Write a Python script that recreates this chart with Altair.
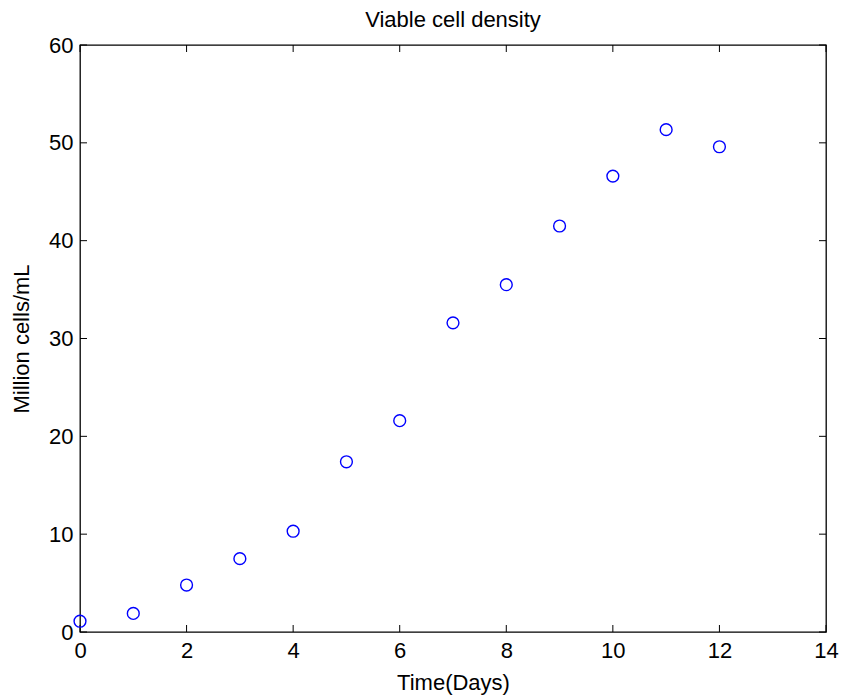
import altair as alt
import pandas as pd

days = [0, 1, 2, 3, 4, 5, 6, 7, 8, 9, 10, 11, 12]
density = [1.1, 1.9, 4.8, 7.5, 10.3, 17.4, 21.6, 31.6, 35.5, 41.5, 46.6, 51.35, 49.6]
x_ticks = [0, 2, 4, 6, 8, 10, 12, 14]
y_ticks = [0, 10, 20, 30, 40, 50, 60]

W, H = 746, 587
FONT = "Liberation Sans"
FS = 22

df = pd.DataFrame({"day": days, "density": density})
xt = pd.DataFrame({"t": x_ticks})
yt = pd.DataFrame({"t": y_ticks})

xscale = alt.Scale(domain=[0, 14], nice=False, zero=False)
yscale = alt.Scale(domain=[0, 60], nice=False)

points = alt.Chart(df).mark_point(
    shape="circle", filled=False, color="#0000ff", size=140, strokeWidth=1.4, opacity=1
).encode(
    x=alt.X("day:Q", scale=xscale, title="Time(Days)",
            axis=alt.Axis(values=x_ticks, ticks=False, grid=False, labelPadding=8,
                          labelFlush=False, domain=False, titlePadding=11)),
    y=alt.Y("density:Q", scale=yscale, title="Million cells/mL",
            axis=alt.Axis(values=y_ticks, ticks=False, grid=False, labelPadding=7,
                          labelFlush=False, domain=False, titlePadding=15)),
)

tl = 7
bottom = alt.Chart(xt).mark_rule(color="black").encode(
    x=alt.X("t:Q", scale=xscale), y=alt.value(H), y2=alt.value(H - tl))
top = alt.Chart(xt).mark_rule(color="black").encode(
    x=alt.X("t:Q", scale=xscale), y=alt.value(0), y2=alt.value(tl))
left = alt.Chart(yt).mark_rule(color="black").encode(
    y=alt.Y("t:Q", scale=yscale), x=alt.value(0), x2=alt.value(tl))
right = alt.Chart(yt).mark_rule(color="black").encode(
    y=alt.Y("t:Q", scale=yscale), x=alt.value(W), x2=alt.value(W - tl))

chart = alt.layer(bottom, top, left, right, points).properties(
    width=W, height=H,
    background="white",
    title=alt.TitleParams("Viable cell density", fontSize=FS, font=FONT,
                          fontWeight="normal", color="black", offset=2),
    autosize=alt.AutoSizeParams(type="none"),
    padding={"left": 80, "top": 45, "right": 15, "bottom": 68},
).configure_view(
    stroke="black", strokeWidth=1.3
).configure_axis(
    labelFont=FONT, labelFontSize=FS, labelColor="black",
    titleFont=FONT, titleFontSize=FS, titleColor="black", titleFontWeight="normal",
)

chart.save("out.html", embed_options={"renderer": "svg", "actions": False})
